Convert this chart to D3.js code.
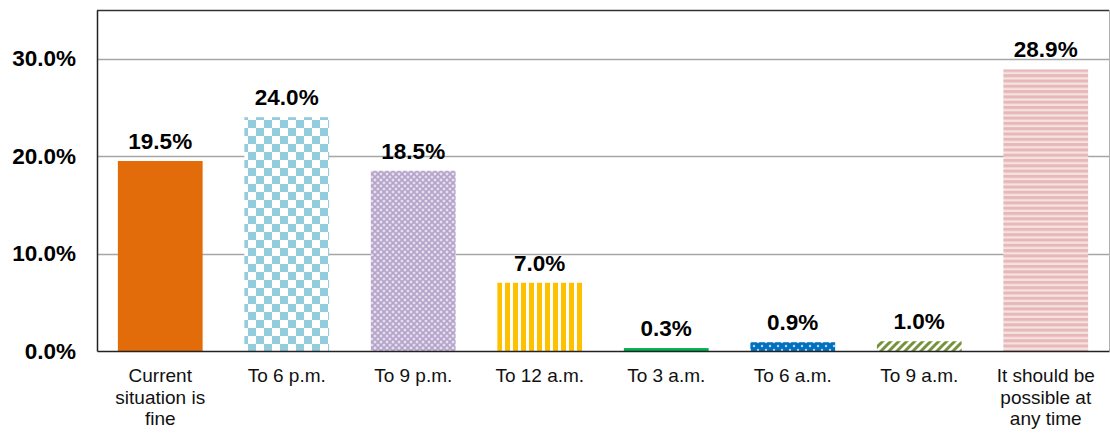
<!DOCTYPE html>
<html>
<head>
<meta charset="utf-8">
<script src="https://cdn.jsdelivr.net/npm/d3@7"></script>
<style>
  html, body { margin: 0; padding: 0; background: #fff; }
  svg { display: block; font-family: "Liberation Sans", Arial, sans-serif; }
</style>
</head>
<body>
<svg id="chart" width="1110" height="433"></svg>
<script>
// Preferred closing hour answers, share of respondents
const categories = [
  ["Current", "situation is", "fine"],
  ["To 6 p.m."],
  ["To 9 p.m."],
  ["To 12 a.m."],
  ["To 3 a.m."],
  ["To 6 a.m."],
  ["To 9 a.m."],
  ["It should be", "possible at", "any time"]
];
const values = [19.5, 24.0, 18.5, 7.0, 0.3, 0.9, 1.0, 28.9];
const yTicks = [0, 10, 20, 30];
const fills = ["solid-orange", "checker", "lattice", "vstripes", "solid-green", "dots", "diag", "hstripes"];

const svg = d3.select("#chart");
const margin = { left: 97, right: 1109, top: 10, bottom: 351 };

const x = d3.scaleBand()
  .domain(d3.range(categories.length))
  .range([margin.left, margin.right])
  .paddingInner(0.33)
  .paddingOuter(0.165);

const y = d3.scaleLinear().domain([0, 35]).range([margin.bottom, margin.top]);

// Fill patterns for the bars
const defs = svg.append("defs");

function pattern(id, w, h) {
  return defs.append("pattern")
    .attr("id", id).attr("patternUnits", "userSpaceOnUse")
    .attr("width", w).attr("height", h);
}

// checkerboard
{
  const p = pattern("checker", 16, 16);
  p.append("rect").attr("width", 16).attr("height", 16).attr("fill", "#ffffff");
  p.append("rect").attr("x", 0).attr("y", 0).attr("width", 8).attr("height", 8).attr("fill", "#93cddd");
  p.append("rect").attr("x", 8).attr("y", 8).attr("width", 8).attr("height", 8).attr("fill", "#93cddd");
}
// lattice
{
  const p = pattern("lattice", 6, 6);
  p.append("rect").attr("width", 6).attr("height", 6).attr("fill", "#e6dfee");
  p.append("path").attr("d", "M0,0 L6,6 M6,0 L0,6").attr("stroke", "#b4a3c9").attr("stroke-width", 1.6);
}
// vertical stripes
{
  const p = pattern("vstripes", 8, 8);
  p.append("rect").attr("width", 8).attr("height", 8).attr("fill", "#ffffff");
  p.append("rect").attr("x", 1).attr("width", 5).attr("height", 8).attr("fill", "#ffc000");
}
// dots
{
  const p = pattern("dots", 8, 8);
  p.append("rect").attr("width", 8).attr("height", 8).attr("fill", "#0070c0");
  p.append("circle").attr("cx", 2).attr("cy", 2).attr("r", 1.2).attr("fill", "#bcd8f0");
  p.append("circle").attr("cx", 6).attr("cy", 6).attr("r", 1.2).attr("fill", "#bcd8f0");
}
// diagonal stripes
{
  const p = pattern("diag", 8, 8);
  p.append("rect").attr("width", 8).attr("height", 8).attr("fill", "#ffffff");
  p.append("path").attr("d", "M-2,2 L2,-2 M0,8 L8,0 M6,10 L10,6")
    .attr("stroke", "#76923c").attr("stroke-width", 3);
}
// horizontal stripes
{
  const p = pattern("hstripes", 8, 5.3);
  p.append("rect").attr("width", 8).attr("height", 5.3).attr("fill", "#f6e2e2");
  p.append("rect").attr("y", 0).attr("width", 8).attr("height", 3).attr("fill", "#e6b9b8");
}

const fillFor = f => f === "solid-orange" ? "#e36c0a" : f === "solid-green" ? "#00b050" : `url(#${f})`;

// gridlines
svg.append("g")
  .selectAll("line")
  .data(yTicks.filter(t => t > 0))
  .join("line")
  .attr("x1", margin.left).attr("x2", margin.right)
  .attr("y1", d => Math.round(y(d)) + 0.5).attr("y2", d => Math.round(y(d)) + 0.5)
  .attr("stroke", "#a6a6a6").attr("stroke-width", 1.5);

// plot frame
svg.append("line").attr("x1", margin.left).attr("x2", margin.right)
  .attr("y1", margin.top + 0.5).attr("y2", margin.top + 0.5)
  .attr("stroke", "#333").attr("stroke-width", 1.5);
svg.append("line").attr("x1", margin.right + 0.5).attr("x2", margin.right + 0.5)
  .attr("y1", margin.top).attr("y2", margin.bottom)
  .attr("stroke", "#b0b0b0").attr("stroke-width", 1);

// bars
svg.append("g")
  .selectAll("rect")
  .data(values)
  .join("rect")
  .attr("x", (d, i) => x(i))
  .attr("width", x.bandwidth())
  .attr("y", d => y(d))
  .attr("height", d => y(0) - y(d))
  .attr("fill", (d, i) => fillFor(fills[i]));

// axes
const yAxis = svg.append("g")
  .attr("transform", `translate(${margin.left},0)`)
  .call(d3.axisLeft(y).tickValues(yTicks).tickSize(0).tickPadding(21).tickFormat(d => d.toFixed(1) + "%"));
yAxis.select(".domain").attr("stroke", "#222").attr("stroke-width", 1.5);
yAxis.selectAll("text").attr("font-size", 22.5).attr("font-weight", "bold").attr("fill", "#000")
  .attr("font-family", "Liberation Sans, Arial, sans-serif");

const xAxis = svg.append("g")
  .attr("transform", `translate(0,${margin.bottom})`)
  .call(d3.axisBottom(x).tickSize(0).tickFormat(""));
xAxis.select(".domain").attr("stroke", "#222").attr("stroke-width", 1.5);

// category labels
const catG = svg.append("g");
categories.forEach((lines, i) => {
  const cx = x(i) + x.bandwidth() / 2;
  const t = catG.append("text")
    .attr("x", cx)
    .attr("y", 382)
    .attr("text-anchor", "middle")
    .attr("font-size", 19)
    .attr("fill", "#111");
  lines.forEach((ln, j) => {
    t.append("tspan").attr("x", cx).attr("dy", j === 0 ? 0 : 21.5).text(ln);
  });
});

// value labels
svg.append("g")
  .selectAll("text")
  .data(values)
  .join("text")
  .attr("x", (d, i) => x(i) + x.bandwidth() / 2)
  .attr("y", d => y(d) - 12)
  .attr("text-anchor", "middle")
  .attr("font-size", 22.5)
  .attr("font-weight", "bold")
  .attr("fill", "#000")
  .text(d => d.toFixed(1) + "%");
</script>
</body>
</html>
